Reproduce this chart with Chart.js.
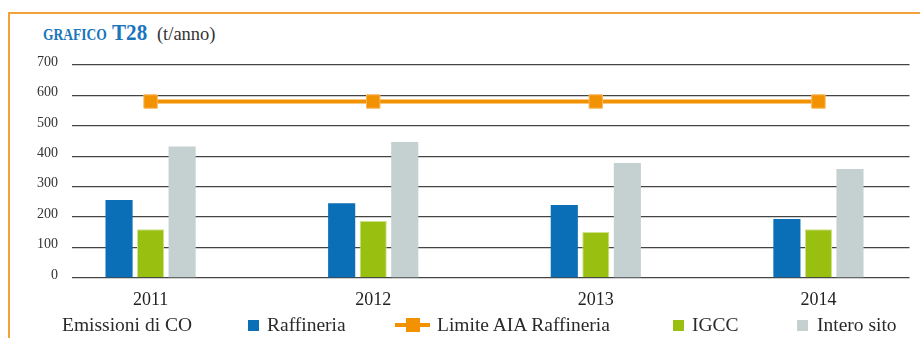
<!DOCTYPE html>
<html lang="it">
<head>
<meta charset="utf-8">
<title>Grafico T28</title>
<script src="https://cdn.jsdelivr.net/npm/chart.js@4/dist/chart.umd.min.js"></script>
<style>
  html, body { margin: 0; padding: 0; background: #fff; }
  #wrap { position: relative; width: 920px; height: 338px; overflow: hidden; font-family: "Liberation Serif", serif; }
  #frame { position: absolute; left: 8px; top: 12px; width: 960px; height: 400px;
           border-top: 2px solid #f2a23a; border-left: 2px solid #f2a23a; }
  #title { position: absolute; left: 43px; top: 19px; white-space: nowrap; color: #333; }
  #title .g { color: #1b75bb; font-weight: bold; font-size: 16.5px; display: inline-block; transform: scaleX(0.82); transform-origin: left; margin-right: -13px; }
  #title .t { color: #1b75bb; font-weight: bold; font-size: 24px; display: inline-block; transform: scaleX(0.88); transform-origin: left; margin-right: 1px; }
  #title .u { font-size: 18.5px; }
  canvas { position: absolute; left: 0; top: 0; }
  #legend { position: absolute; left: 0; top: 0; width: 920px; height: 338px; pointer-events: none; }
  #legend span { position: absolute; font-size: 19.5px; color: #2a2a2a; white-space: nowrap; }
  #legend i { position: absolute; display: block; }
</style>
</head>
<body>
<div id="wrap">
  <div id="frame"></div>
  <div id="title"><span class="g">GRAFICO</span> <span class="t">T28</span> <span class="u">(t/anno)</span></div>
  <canvas id="chart" width="920" height="338"></canvas>
  <div id="legend"></div>
</div>
<script>
// anni e valori (t/anno)
const anni = [2011, 2012, 2013, 2014];
const raffineria = [256, 246, 240, 194];
const limiteAIA = [580, 580, 580, 580];
const igcc = [160, 187, 151, 160];
const interoSito = [432, 447, 378, 358];
const yTicks = [0, 100, 200, 300, 400, 500, 600, 700];

const BLU = '#0a6fb6';
const ARANCIO = '#f39200';
const VERDE = '#99bf10';
const GRIGIO = '#c5d1d1';

const ctx = document.getElementById('chart').getContext('2d');
const chart = new Chart(ctx, {
  data: {
    labels: anni,
    datasets: [
      { type: 'bar', label: 'Raffineria', data: raffineria, backgroundColor: BLU, order: 2 },
      {
        type: 'line', label: 'Limite AIA Raffineria', data: limiteAIA,
        borderColor: ARANCIO, borderWidth: 4, backgroundColor: ARANCIO,
        pointStyle: 'rect', pointRadius: 9.5, pointBorderWidth: 1, pointBorderColor: '#f8b760',
        pointBackgroundColor: ARANCIO, tension: 0, order: 1
      },
      { type: 'bar', label: 'IGCC', data: igcc, backgroundColor: VERDE, borderColor: '#cfe08a', borderWidth: 1, order: 2 },
      { type: 'bar', label: 'Intero sito', data: interoSito, backgroundColor: GRIGIO, order: 2 }
    ]
  },
  options: {
    responsive: false,
    animation: false,
    datasets: { bar: { categoryPercentage: 0.425, barPercentage: 0.86 } },
    layout: { padding: { left: 0, right: 8, top: 65, bottom: 30 } },
    plugins: { legend: { display: false }, tooltip: { enabled: false } },
    scales: {
      x: {
        type: 'linear',
        offset: false,
        min: 2010.647,
        max: 2014.409,
        grid: { display: false },
        border: { display: false },
        ticks: {
          padding: 3,
          color: '#222',
          font: { family: 'Liberation Serif', size: 18 },
          callback: v => String(v)
        },
        afterBuildTicks: s => { s.ticks = anni.map(v => ({ value: v })); },
        afterFit: s => { s.height = 30; }
      },
      y: {
        min: 0,
        max: 700,
        border: { display: false },
        grid: { color: '#444', lineWidth: 1.3, drawTicks: false },
        ticks: {
          padding: 14,
          labelOffset: -3,
          color: '#333',
          font: { family: 'Liberation Serif', size: 14 }
        },
        afterBuildTicks: s => { s.ticks = yTicks.map(v => ({ value: v })); },
        afterFit: s => { s.width = 72; }
      }
    }
  }
});

// legenda in basso, costruita dai dataset
const legend = document.getElementById('legend');
const base = 314;
function addText(txt, x) {
  const s = document.createElement('span');
  s.textContent = txt;
  s.style.left = x + 'px';
  s.style.top = base + 'px';
  legend.appendChild(s);
}
function addBox(color, x, y, w, h) {
  const b = document.createElement('i');
  b.style.left = x + 'px'; b.style.top = y + 'px';
  b.style.width = w + 'px'; b.style.height = h + 'px';
  b.style.background = color;
  legend.appendChild(b);
}
addText('Emissioni di CO', 62);
const legendPos = [
  { box: 248, text: 267 },
  { box: 395, text: 437 },
  { box: 673, text: 692 },
  { box: 797, text: 817 }
];
chart.data.datasets.forEach((ds, i) => {
  const p = legendPos[i];
  if (ds.type === 'line') {
    addBox(ds.borderColor, p.box, 323, 35, 4);
    addBox(ds.pointBackgroundColor, p.box + 11, 318, 14, 14);
  } else {
    addBox(ds.backgroundColor, p.box, 320, 11, 11);
  }
  addText(ds.label, p.text);
});
</script>
</body>
</html>
